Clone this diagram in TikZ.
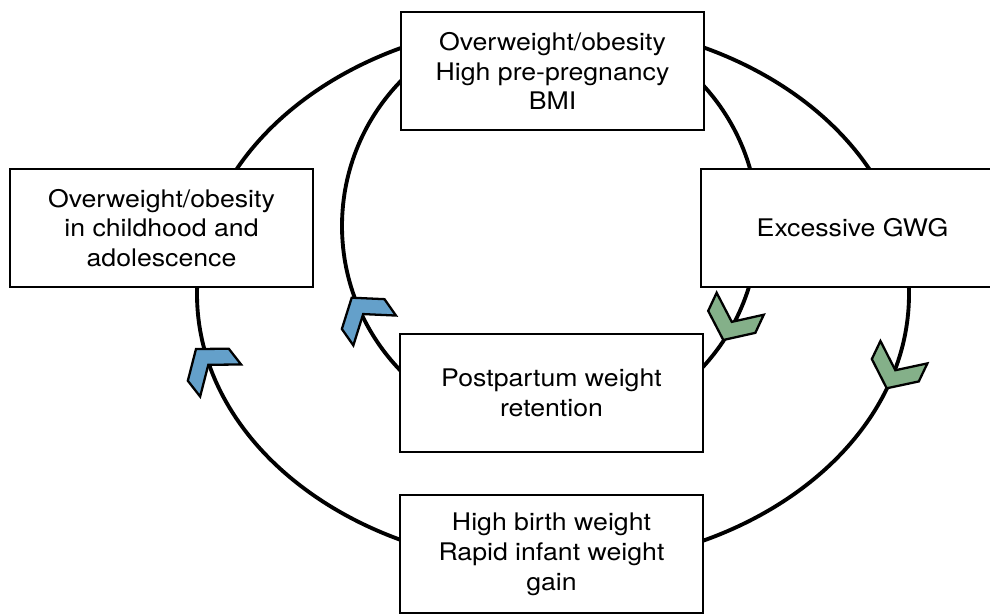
\documentclass[tikz,border=0pt]{standalone}
\usepackage{fontspec}
\setmainfont{TeX Gyre Heros}[FakeStretch=1.1]
\definecolor{chevblue}{RGB}{100,160,202}
\definecolor{chevgreen}{RGB}{132,176,137}
\tikzset{
	box/.style={
		draw,
		fill=white,
		line width=1.4pt,
		minimum width=6.06cm,
		minimum height=2.36cm,
		align=center,
		font=\fontsize{13.8pt}{17pt}\selectfont
	},
	cycleline/.style={
		line width=2.2pt
	},
	pics/chev/.style={
		code={
			\filldraw[fill=#1, line width=1.3pt] (0,0) -- (-20,26) -- (-40,26) -- (-20,0) -- (-40,-26) -- (-20,-26) -- cycle;
		}
	}
}

\begin{document}
\begin{tikzpicture}[x=0.02cm, y=-0.02cm]
\clip (0,0) rectangle (990,614);

\coordinate (outerc) at (553,294);
\coordinate (innerc) at (550,226);
\draw[cycleline] (outerc) ellipse [x radius=356, y radius=272];
\draw[cycleline] (innerc) circle [radius=208];

\node[box] (bmi) at (552.5,71) {Overweight/obesity\\High pre-pregnancy\\BMI};
\node[box] (gwg) at (852.5,228) {Excessive GWG};
\node[box] (child) at (161.5,228) {Overweight/obesity\\in childhood and\\adolescence};
\node[box] (ppwr) at (551.5,393) {Postpartum weight\\retention};
\node[box] (birth) at (551.5,554) {High birth weight\\Rapid infant weight\\gain};

\foreach \x/\y/\a/\c in {196/349/128/chevblue, 351.7/297.7/125/chevblue, 723.3/340/-115/chevgreen, 886.7/388.3/-115.5/chevgreen}
	\pic[rotate=\a] at (\x,\y) {chev=\c};
\end{tikzpicture}
\end{document}
